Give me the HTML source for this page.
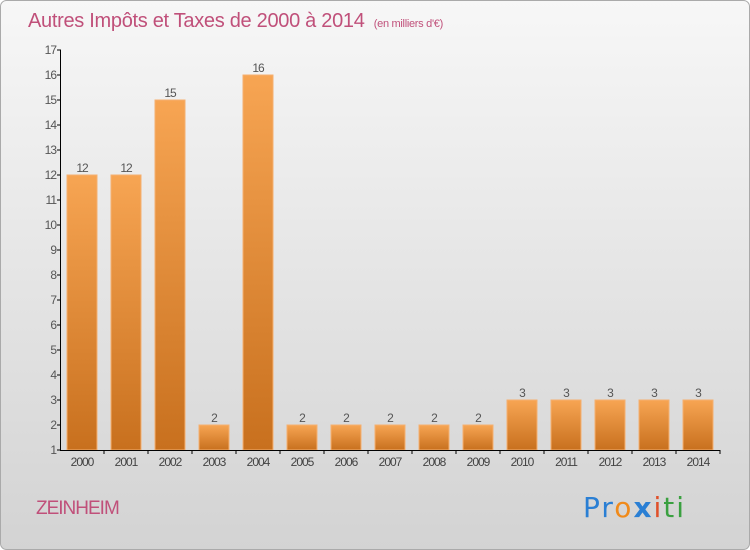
<!DOCTYPE html>
<html><head><meta charset="utf-8"><style>
body{margin:0;}
#c{width:750px;height:550px;position:relative;overflow:hidden;font-family:"Liberation Sans",sans-serif;}
</style></head><body>
<div id="c">
<svg width="750" height="550" id="svg">
<defs>
<linearGradient id="bg" x1="0" y1="0" x2="0" y2="1"><stop offset="0" stop-color="#f7f7f7"/><stop offset="1" stop-color="#d3d3d3"/></linearGradient>
<linearGradient id="bar" x1="0" y1="0" x2="0" y2="1"><stop offset="0" stop-color="#f7a553"/><stop offset="1" stop-color="#c8701e"/></linearGradient>
</defs>
<rect x="0.5" y="0.5" width="749" height="549" rx="6" fill="url(#bg)" stroke="#aaa"/>
<text x="28" y="27" font-size="20" fill="#c0507a" letter-spacing="-0.3">Autres Impôts et Taxes de 2000 à 2014 <tspan font-size="11" dx="4">(en milliers d'€)</tspan></text>
<g id="bars"></g>
<g id="axes"></g>
<text x="36" y="514" font-size="19" fill="#c0507a" letter-spacing="-1">ZEINHEIM</text>
<text x="583" y="517" font-size="28" font-family="'DejaVu Sans',sans-serif" letter-spacing="2"><tspan fill="#2a7fd4">Pr</tspan><tspan fill="#f08a1a">o</tspan><tspan fill="#2a7fd4" font-weight="bold">x</tspan><tspan fill="#e0502a">i</tspan><tspan fill="#3aa040">ti</tspan></text>
</svg>
</div>
<script>
const years=["2000","2001","2002","2003","2004","2005","2006","2007","2008","2009","2010","2011","2012","2013","2014"];
const values=[12,12,15,2,16,2,2,2,2,2,3,3,3,3,3];
const yTicks=[1,2,3,4,5,6,7,8,9,10,11,12,13,14,15,16,17];
const NS="http://www.w3.org/2000/svg";
const y0=450,unit=25,x0=82,step=44,bw=30;
function ys(v){return y0-(v-1)*unit;}
function xs(i){return x0+i*step;}
function mk(t,a,p,txt){const e=document.createElementNS(NS,t);for(const k in a)e.setAttribute(k,a[k]);if(txt!==undefined)e.textContent=txt;p.appendChild(e);return e;}
const bars=document.getElementById('bars'),axes=document.getElementById('axes');
values.forEach((v,i)=>{
 const r=mk('rect',{x:xs(i)-bw/2,y:ys(v),width:bw,height:y0-ys(v),fill:'url(#bar)',stroke:'#f5b070','stroke-width':1},bars);
 
 
 const l=mk('text',{x:xs(i),y:ys(v)-3,'text-anchor':'middle','font-size':12,fill:'#555','letter-spacing':'-1'},bars,String(v));
 
 
 const xl=mk('text',{x:xs(i),y:466,'text-anchor':'middle','font-size':12,fill:'#444','letter-spacing':'-1'},axes,years[i]);
 
 
 mk('line',{x1:xs(i)+step/2,x2:xs(i)+step/2,y1:y0,y2:y0+4,stroke:'#000'},axes);
});
yTicks.forEach(t=>{
 mk('line',{x1:57,x2:61,y1:ys(t),y2:ys(t),stroke:'#000'},axes);
 const tl=mk('text',{x:56,y:ys(t)+4,'text-anchor':'end','font-size':12,fill:'#555','letter-spacing':'-1'},axes,String(t));
 
 
});
const ya=mk('line',{x1:60.5,x2:60.5,y1:ys(17),y2:y0,stroke:'#000'},axes);


const xa=mk('line',{x1:60,x2:720,y1:y0+0.5,y2:y0+0.5,stroke:'#000'},axes);


</script>
</body></html>
